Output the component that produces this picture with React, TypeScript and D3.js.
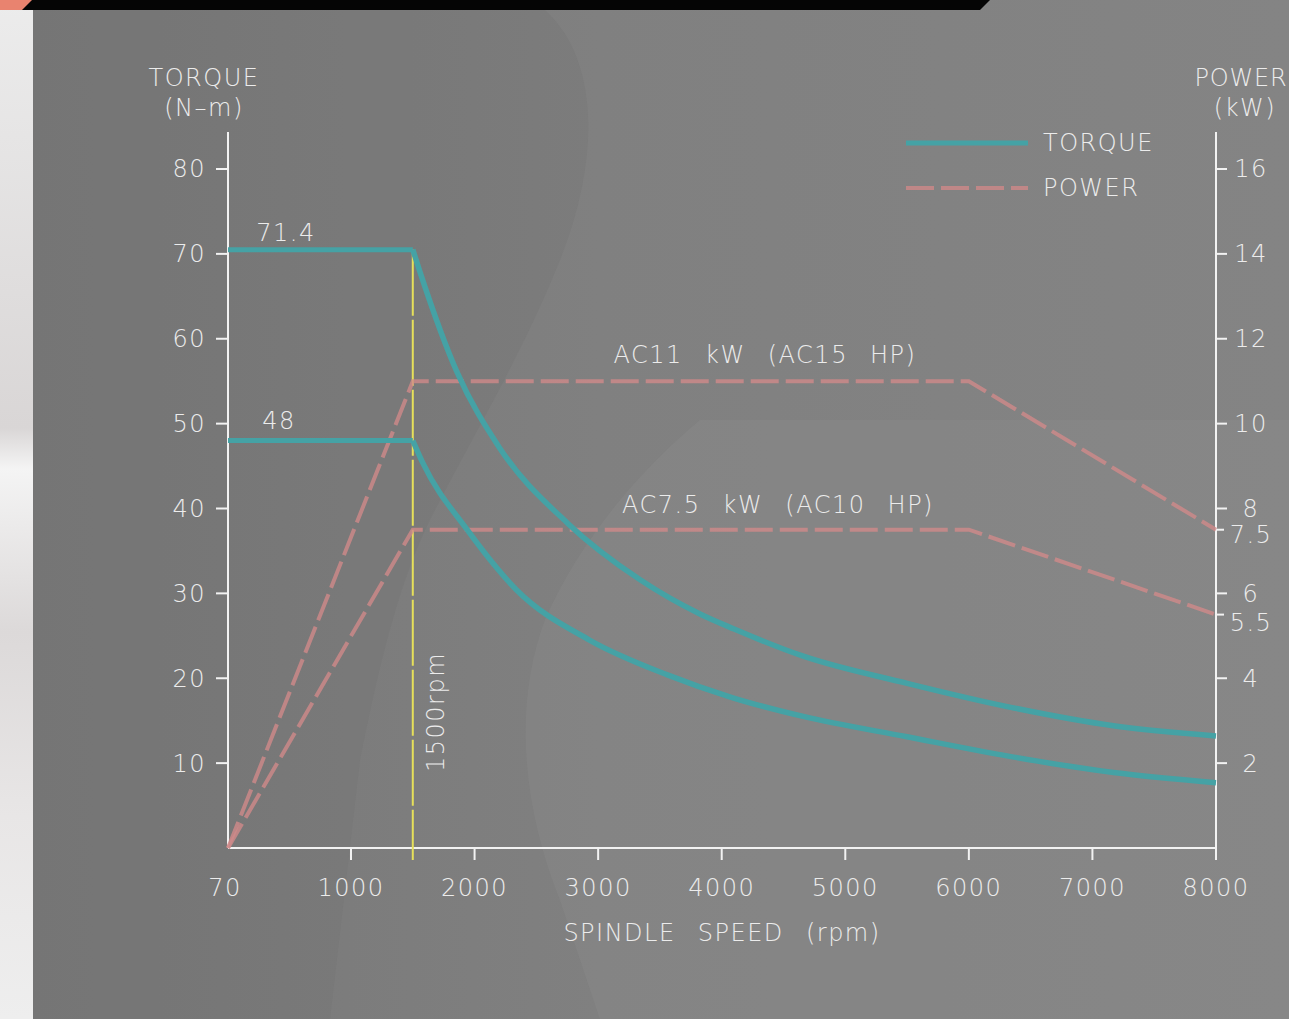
import React from "react";
import * as d3 from "d3";

// ---- data ----
const xTickValues = [70, 1000, 2000, 3000, 4000, 5000, 6000, 7000, 8000];
const xTickLabels = ["70", "1000", "2000", "3000", "4000", "5000", "6000", "7000", "8000"];
const torqueTicks = [10, 20, 30, 40, 50, 60, 70, 80];
const powerTicks = [2, 4, 6, 8, 10, 12, 14, 16];
const powerExtraTicks = [7.5, 5.5];

const baseSpeed = 1500;
const torqueHighFlat = 70.5; // drawn level (label 71.4)
const torqueLowFlat = 48;

const torqueHighSpeeds = [1500, 1560, 1860, 2200, 2750, 3340, 3820, 4100, 4660, 5500, 6330, 7170, 8000];
const torqueHighValues = [70.5, 67.8, 56.0, 47.2, 38.3, 31.6, 27.6, 25.8, 22.6, 19.4, 16.6, 14.4, 13.2];
const torqueLowSpeeds = [1500, 1580, 1940, 2340, 2930, 3560, 4090, 4660, 5500, 6330, 7170, 8000];
const torqueLowValues = [48.0, 45.4, 37.5, 30.4, 24.5, 20.4, 17.7, 15.5, 13.1, 10.8, 8.9, 7.7];

const powerSpeeds = [70, 1500, 6000, 8000];
const power11Values = [0, 11, 11, 7.5];
const power75Values = [0, 7.5, 7.5, 5.5];

const W = 1289;
const H = 1019;
const FONT = "'DejaVu Sans', 'Liberation Sans', sans-serif";
const TXT = "#ececec";
const TEAL = "#45a2a5";
const PINK = "#cf8989";
const YELLOW = "#e6e05a";

export default function App() {
  const x = d3.scaleLinear().domain([70, 1000, 8000]).range([228, 351, 1216]);
  const yT = d3.scaleLinear().domain([0, 80]).range([848, 169]);
  const yP = d3.scaleLinear().domain([0, 16]).range([848, 169]);

  const curve = d3
    .line<[number, number]>()
    .x((d) => x(d[0]))
    .y((d) => yT(d[1]))
    .curve(d3.curveMonotoneX);
  const straight = d3
    .line<[number, number]>()
    .x((d) => x(d[0]))
    .y((d) => yT(d[1]));
  const pLine = d3
    .line<[number, number]>()
    .x((d) => x(d[0]))
    .y((d) => yP(d[1]));

  const hi = torqueHighSpeeds.map((s, i) => [s, torqueHighValues[i]] as [number, number]);
  const lo = torqueLowSpeeds.map((s, i) => [s, torqueLowValues[i]] as [number, number]);
  const p11 = powerSpeeds.map((s, i) => [s, power11Values[i]] as [number, number]);
  const p75 = powerSpeeds.map((s, i) => [s, power75Values[i]] as [number, number]);

  const x0 = x(70);
  const xR = x(8000);
  const yTop = 132;
  const yBot = yT(0);

  const textStyle = {
    fontFamily: FONT,
    fontWeight: 200 as any,
    fill: TXT,
    fontSize: 24,
    letterSpacing: 1.5,
  };

  const rightLabelDy: Record<string, number> = { "8": 0, "6": 0, "7.5": 5, "5.5": 8 };

  return (
    <svg
      width={W}
      height={H}
      viewBox={`0 0 ${W} ${H}`}
      style={{ position: "absolute", left: 0, top: 0, display: "block" }}
    >
      <defs>
        <linearGradient id="leftStrip" x1="0" y1="0" x2="0" y2="1">
          <stop offset="0" stopColor="#ececec" />
          <stop offset="0.42" stopColor="#d9d6d6" />
          <stop offset="0.46" stopColor="#f4f4f4" />
          <stop offset="0.62" stopColor="#dcd9d9" />
          <stop offset="0.8" stopColor="#e8e6e6" />
          <stop offset="1" stopColor="#eeeeee" />
        </linearGradient>
        <linearGradient id="panel" x1="0" y1="0" x2="1" y2="0">
          <stop offset="0" stopColor="#777777" />
          <stop offset="0.45" stopColor="#808080" />
          <stop offset="1" stopColor="#848484" />
        </linearGradient>
      </defs>

      {/* background */}
      <rect x={0} y={0} width={W} height={H} fill="url(#leftStrip)" />
      <rect x={33} y={0} width={W - 33} height={H} fill="url(#panel)" />
      <path
        d="M33,10 L545,10 C600,60 600,160 560,260 C520,360 470,440 430,520 C400,580 380,660 360,760 L330,1019 L33,1019 Z"
        fill="#6e6e6e"
        opacity={0.25}
      />
      <path
        d="M700,420 C640,470 580,540 545,620 C515,700 520,800 560,900 L600,1019 L1289,1019 L1289,420 Z"
        fill="#8c8c8c"
        opacity={0.35}
      />
      <path d="M0,0 L990,0 L980,10 L0,10 Z" fill="#050505" />
      <path d="M0,0 L32,0 L22,10 L0,10 Z" fill="#e9836f" />

      {/* axes */}
      <g stroke="#f2f2f2" strokeWidth={2} fill="none">
        <line x1={x0} y1={yTop} x2={x0} y2={yBot} />
        <line x1={x0} y1={yBot} x2={xR} y2={yBot} />
        <line x1={xR} y1={yTop} x2={xR} y2={yBot} />
        {torqueTicks.map((t) => (
          <line key={"tt" + t} x1={x0 - 12} x2={x0} y1={yT(t)} y2={yT(t)} />
        ))}
        {powerTicks.map((t) => (
          <line key={"pt" + t} x1={xR} x2={xR + 11} y1={yP(t)} y2={yP(t)} />
        ))}
        {powerExtraTicks.map((t) => (
          <line key={"pe" + t} x1={xR} x2={xR + 8} y1={yP(t)} y2={yP(t)} />
        ))}
        {xTickValues.slice(1).map((v) => (
          <line key={"xt" + v} x1={x(v)} x2={x(v)} y1={yBot} y2={yBot + 12} />
        ))}
      </g>

      {/* tick labels */}
      {torqueTicks.map((t) => (
        <text key={"tl" + t} x={x0 - 22} y={yT(t)} dy="0.35em" textAnchor="end" style={textStyle}>
          {t}
        </text>
      ))}
      {[...powerTicks, ...powerExtraTicks].map((t) => (
        <text
          key={"pl" + t}
          x={1251}
          y={yP(t) + (rightLabelDy[String(t)] ?? 0)}
          dy="0.35em"
          textAnchor="middle"
          style={textStyle}
        >
          {String(t)}
        </text>
      ))}
      {xTickValues.map((v, i) => (
        <text key={"xl" + v} x={i === 0 ? x(v) - 3 : x(v)} y={888} dy="0.35em" textAnchor="middle" style={textStyle}>
          {xTickLabels[i]}
        </text>
      ))}

      {/* axis titles */}
      <text x={204} y={78} dy="0.35em" textAnchor="middle" style={textStyle}>TORQUE</text>
      <text x={204} y={108} dy="0.35em" textAnchor="middle" style={textStyle}>(N–m)</text>
      <text x={1241} y={78} dy="0.35em" textAnchor="middle" style={{ ...textStyle, letterSpacing: 0.8 }}>POWER</text>
      <text x={1245} y={108} dy="0.35em" textAnchor="middle" style={textStyle}>(kW)</text>
      <text x={722} y={933} dy="0.35em" textAnchor="middle" style={{ ...textStyle, wordSpacing: 13 }}>
        SPINDLE SPEED (rpm)
      </text>

      {/* base speed line */}
      <line
        x1={x(baseSpeed)}
        x2={x(baseSpeed)}
        y1={yT(torqueHighFlat)}
        y2={yBot + 12}
        stroke={YELLOW}
        strokeWidth={2}
        strokeDasharray="66 4"
      />
      <text
        transform={`translate(${x(baseSpeed) + 31},${712}) rotate(-90)`}
        textAnchor="middle"
        style={textStyle}
      >
        1500rpm
      </text>

      {/* power lines */}
      <path d={pLine(p11) || ""} fill="none" stroke={PINK} strokeWidth={4} strokeDasharray="28 7" opacity={0.8} />
      <path d={pLine(p75) || ""} fill="none" stroke={PINK} strokeWidth={4} strokeDasharray="28 7" opacity={0.8} />

      {/* torque lines */}
      <path d={straight([[70, torqueHighFlat], [baseSpeed, torqueHighFlat]]) || ""} fill="none" stroke={TEAL} strokeWidth={5} />
      <path d={straight([[70, torqueLowFlat], [baseSpeed, torqueLowFlat]]) || ""} fill="none" stroke={TEAL} strokeWidth={5} />
      <path d={curve(hi) || ""} fill="none" stroke={TEAL} strokeWidth={5.5} />
      <path d={curve(lo) || ""} fill="none" stroke={TEAL} strokeWidth={5.5} />

      {/* annotations */}
      <text x={286} y={233} dy="0.35em" textAnchor="middle" style={textStyle}>71.4</text>
      <text x={279} y={421} dy="0.35em" textAnchor="middle" style={textStyle}>48</text>
      <text x={765} y={355} dy="0.35em" textAnchor="middle" style={{ ...textStyle, wordSpacing: 13 }}>
        AC11 kW (AC15 HP)
      </text>
      <text x={778} y={505} dy="0.35em" textAnchor="middle" style={{ ...textStyle, wordSpacing: 13 }}>
        AC7.5 kW (AC10 HP)
      </text>

      {/* legend */}
      <line x1={906} x2={1028} y1={143} y2={143} stroke={TEAL} strokeWidth={5} />
      <line x1={906} x2={1028} y1={188} y2={188} stroke={PINK} strokeWidth={4} strokeDasharray="28 7" opacity={0.8} />
      <text x={1043} y={143} dy="0.35em" style={textStyle}>TORQUE</text>
      <text x={1043} y={188} dy="0.35em" style={textStyle}>POWER</text>
    </svg>
  );
}
